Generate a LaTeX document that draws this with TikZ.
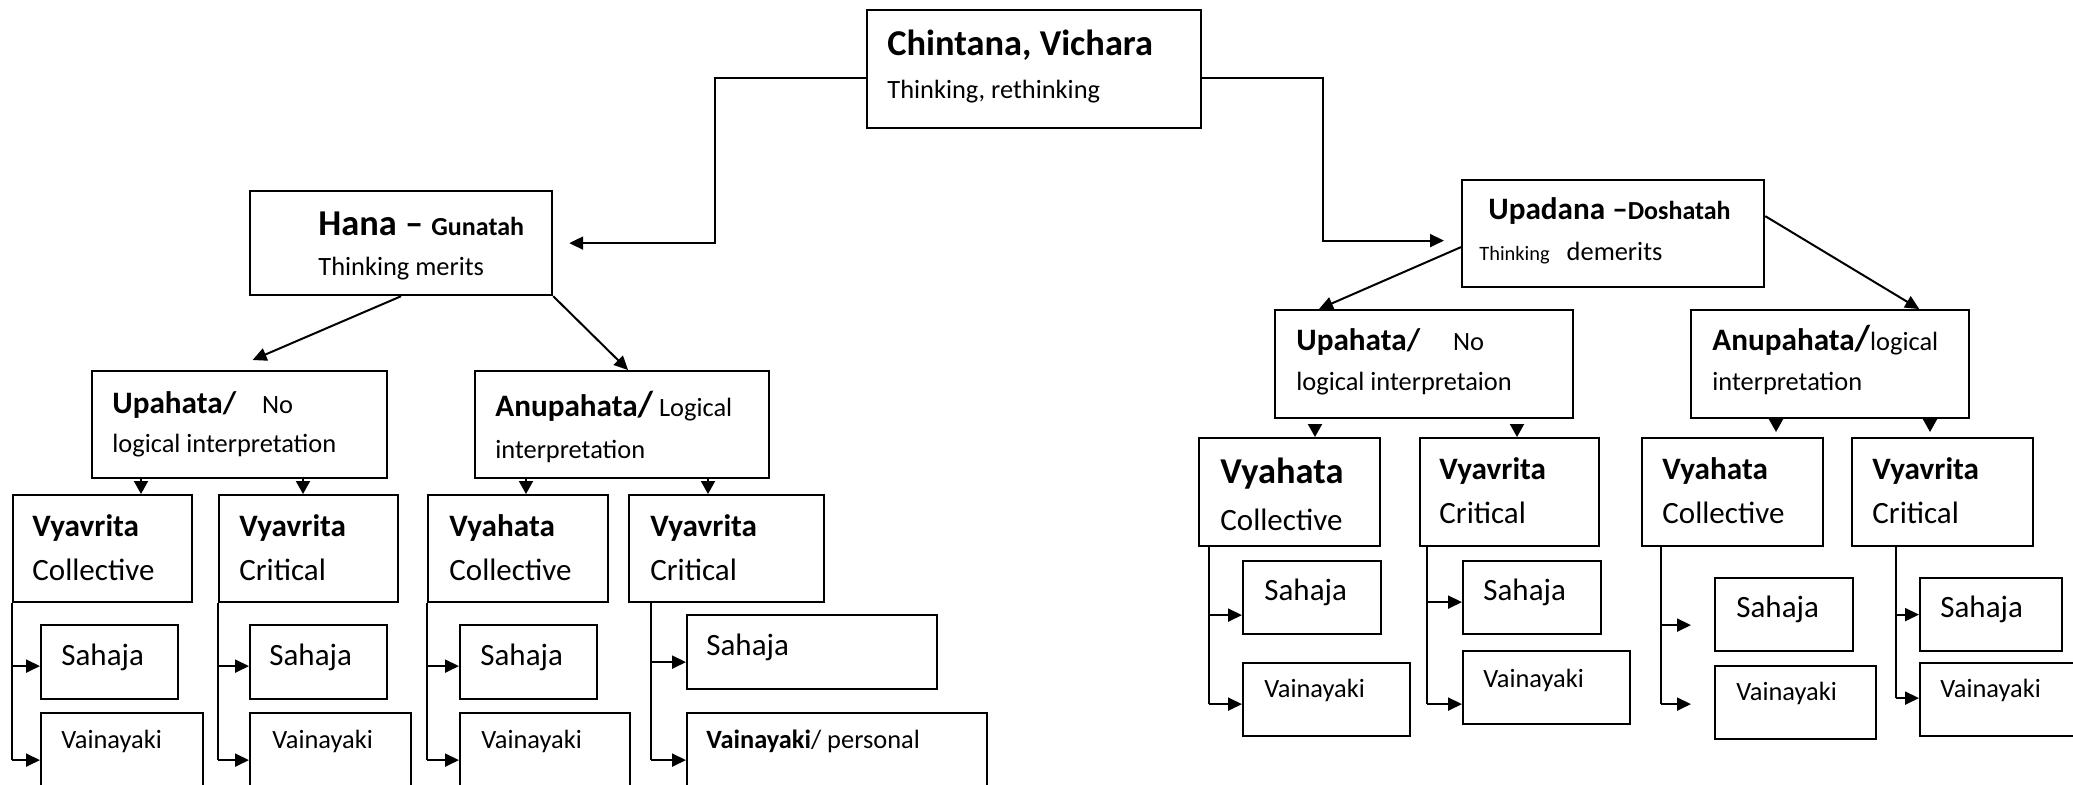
\documentclass[tikz,border=0pt]{standalone}
\usepackage{fontspec}
\setmainfont{Carlito}
\usetikzlibrary{arrows.meta,calc}

\newcommand\headfont{\bfseries\fontsize{18.2}{21}\selectfont}
\newcommand\titlefont{\bfseries\fontsize{15.6}{18}\selectfont}
\newcommand\slashfont{\bfseries\fontsize{18}{20}\selectfont}
\newcommand\subfont{\fontsize{15.5}{18}\selectfont}
\newcommand\bodyfont{\fontsize{13.2}{15}\selectfont}
\newcommand\smallbold{\bfseries\fontsize{13}{15}\selectfont}
\newcommand\tinyfont{\fontsize{10.2}{12}\selectfont}

% box by its corners (px): name, x1, y1, x2, y2
\newcommand\bx[5]{\node[box, minimum width={(#4-#2)*0.5pt}, minimum height={(#5-#3)*0.5pt}] (#1) at (#2,#3) {};}

\tikzset{
  box/.style={draw, line width=1.1pt, anchor=north west, inner sep=0pt},
  txt/.style={anchor=base west, inner sep=0pt},
  conn/.style={line width=1pt, -{Triangle[length=7pt,width=6.5pt]}},
  down/.style={line width=1pt, -{Triangle[length=6.5pt,width=7pt]}},
  stem/.style={line width=0.7pt},
}

\begin{document}
\begin{tikzpicture}[x=0.5pt, y=-0.5pt]
\useasboundingbox (0,0) rectangle (2073,784);
\clip (0,0) rectangle (2073,784);

% upper boxes
\bx{top}{866}{9}{1200}{127}
\bx{hana}{249}{190}{551}{294}
\bx{upadana}{1461}{179}{1763}{286}
\bx{upahataL}{91}{370}{386}{477}
\bx{anupahataL}{474}{370}{768}{477}
\bx{upahataR}{1274}{309}{1572}{417}
\bx{anupahataR}{1690}{309}{1968}{417}

% third row
\bx{L1}{12}{494}{191}{601}
\bx{L2}{218}{494}{397}{601}
\bx{L3}{427}{494}{607}{601}
\bx{L4}{628}{494}{823}{601}
\bx{R1}{1198}{437}{1379}{545}
\bx{R2}{1419}{437}{1598}{545}
\bx{R3}{1641}{437}{1822}{545}
\bx{R4}{1851}{437}{2032}{545}

% Sahaja / Vainayaki
\bx{sL1}{40}{624}{177}{698}     \bx{vL1}{40}{712}{202}{806}
\bx{sL2}{249}{624}{386}{698}    \bx{vL2}{249}{712}{410}{806}
\bx{sL3}{459}{624}{596}{698}    \bx{vL3}{459}{712}{629}{806}
\bx{sL4}{686}{614}{936}{688}    \bx{vL4}{686}{712}{986}{806}
\bx{sR1}{1242}{560}{1380}{633}  \bx{vR1}{1242}{662}{1409}{735}
\bx{sR2}{1462}{560}{1600}{633}  \bx{vR2}{1462}{650}{1629}{723}
\bx{sR3}{1714}{577}{1852}{650}  \bx{vR3}{1714}{665}{1875}{738}
\bx{sR4}{1919}{577}{2061}{650}  \bx{vR4}{1919}{662}{2090}{735}

% texts
\node[txt] (top-a) at (887,55) {\headfont Chintana, Vichara};
\node[txt] (top-b) at (887,98) {\bodyfont Thinking, rethinking};
\node[txt] (hana-a) at (318,235) {{\headfont Hana – }{\smallbold Gunatah}};
\node[txt] (hana-b) at (318,275) {\bodyfont Thinking merits};
\node[txt] (upadana-a) at (1488,219) {{\titlefont Upadana –}{\smallbold Doshatah}};
\node[txt] (upadana-b) at (1479,260) {{\tinyfont Thinking}\hspace{8.5pt}{\bodyfont demerits}};
\node[txt] (upahataL-a) at (112,413) {{\titlefont Upahata/}\hspace{13pt}{\bodyfont No}};
\node[txt] (upahataL-b) at (112,452) {\bodyfont logical interpretation};
\node[txt] (anupahataL-a) at (495,416) {{\titlefont Anupahata}{\slashfont/}{\bodyfont\ Logical}};
\node[txt] (anupahataL-b) at (495,458) {\bodyfont interpretation};
\node[txt] (upahataR-a) at (1296,350) {{\titlefont Upahata/}\hspace{16.5pt}{\bodyfont No}};
\node[txt] (upahataR-b) at (1296,390) {\bodyfont logical interpretaion};
\node[txt] (anupahataR-a) at (1712,350) {{\titlefont Anupahata}{\slashfont/}{\bodyfont logical}};
\node[txt] (anupahataR-b) at (1712,390) {\bodyfont interpretation};

\foreach \n/\x/\a/\b in {L1/32/Vyavrita/Collective, L2/239/Vyavrita/Critical,
    L3/449/Vyahata/Collective, L4/650/Vyavrita/Critical}{
  \node[txt] (\n-a) at (\x,536) {\titlefont \a};
  \node[txt] (\n-b) at (\x,580) {\subfont \b};
}
\node[txt] (R1-a) at (1220,483) {\headfont Vyahata};
\node[txt] (R1-b) at (1220,530) {\subfont Collective};
\foreach \n/\x/\a/\b in {R2/1439/Vyavrita/Critical, R3/1662/Vyahata/Collective,
    R4/1872/Vyavrita/Critical}{
  \node[txt] (\n-a) at (\x,479) {\titlefont \a};
  \node[txt] (\n-b) at (\x,523) {\subfont \b};
}

\foreach \n/\x/\y in {sL1/61/665, sL2/269/665, sL3/480/665, sL4/706/655,
    sR1/1264/600, sR2/1483/600, sR3/1736/617, sR4/1940/617}
  \node[txt] (\n-t) at (\x,\y) {\subfont Sahaja};
\foreach \n/\x/\y in {vL1/61/748, vL2/272/748, vL3/481/748,
    vR1/1264/697, vR2/1483/687, vR3/1736/700, vR4/1940/697}
  \node[txt] (\n-t) at (\x,\y) {\bodyfont Vainayaki};
\node[txt] (vL4-t) at (706,748) {\bodyfont\textbf{Vainayaki}/ personal};

% connectors
\draw[conn] ([yshift=-4.5pt]top.west) -- ++(-151,0) |- ([xshift=8pt]hana.east);
\draw[conn] ([yshift=-4.5pt]top.east) -- ++(121,0) |- ([xshift=-8.5pt,yshift=-3.5pt]upadana.west);
\draw[conn] (hana.south) -- ([xshift=6.5pt,yshift=5pt]upahataL.north);
\draw[conn] (hana.south east) -- ([xshift=3pt]anupahataL.north);
\draw[conn] ([yshift=-6.75pt]upadana.west) -- ([xshift=22.5pt]upahataR.north west);
\draw[conn] ([yshift=8.75pt]upadana.east) -- ([xshift=-25.5pt]anupahataR.north east);

\foreach \x/\a/\b in {141/upahataL/L1, 303/upahataL/L2, 526/anupahataL/L3, 708/anupahataL/L4}
  \draw[down] (\x,0 |- \a.south) -- (\x,0 |- \b.north);
\foreach \x/\a/\b in {1315/upahataR/R1, 1517/upahataR/R2}
  \draw[down, shorten <=2.5pt] (\x,0 |- \a.south) -- (\x,0 |- \b.north);
\foreach \x/\a/\b in {1776/anupahataR/R3, 1930/anupahataR/R4}
  \draw[down, shorten >=2.5pt] (\x,0 |- \a.south) -- (\x,0 |- \b.north);

% brackets to Sahaja / Vainayaki
\foreach \x/\p/\s/\ds/\v/\dv/\g in {
    12/L1/sL1/-2pt/vL1/0pt/0pt,
    218/L2/sL2/-2pt/vL2/0pt/0pt,
    427/L3/sL3/-2pt/vL3/0pt/0pt,
    651/L4/sL4/-5pt/vL4/0pt/0pt,
    1209/R1/sR1/-8.75pt/vR1/-2.25pt/0pt,
    1427/R2/sR2/-2.25pt/vR2/-8.25pt/0pt,
    1661/R3/sR3/-5.25pt/vR3/-0.75pt/11.5pt,
    1896/R4/sR4/0pt/vR4/0.75pt/0pt}{
  \path ([yshift=\ds]\s.west) coordinate (sa) ([yshift=\dv]\v.west) coordinate (va);
  \draw[stem] (\x,0 |- \p.south) -- (\x,0 |- va);
  \draw[conn, shorten >=\g] (\x,0 |- sa) -- (sa);
  \draw[conn, shorten >=\g] (\x,0 |- va) -- (va);
}
\end{tikzpicture}
\end{document}
